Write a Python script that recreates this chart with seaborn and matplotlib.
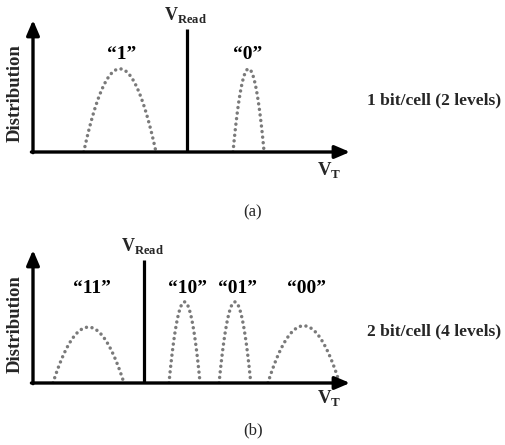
import numpy as np
import pandas as pd
import matplotlib
matplotlib.use("Agg")
import matplotlib.pyplot as plt
import seaborn as sns

sns.set_theme(style="white")
plt.rcParams['font.family'] = ['Liberation Serif', 'DejaVu Serif']
plt.rcParams['mathtext.fontset'] = 'custom'
plt.rcParams['mathtext.rm'] = 'Liberation Serif'
plt.rcParams['mathtext.bf'] = 'Liberation Serif:bold'

# ---- data (schematic threshold-voltage distributions) ----
top_labels = ["\u201c1\u201d", "\u201c0\u201d"]
top_centers = [27.4, 68.0]
top_halfwidths = [11.4, 4.9]
top_heights = [0.63, 0.63]
top_label_x = [28.0, 67.8]
top_vread = 48.6

bot_labels = ["\u201c11\u201d", "\u201c10\u201d", "\u201c01\u201d", "\u201c00\u201d"]
bot_centers = [17.5, 47.8, 63.7, 85.4]
bot_halfwidths = [11.2, 4.9, 5.0, 11.3]
bot_heights = [0.42, 0.61, 0.61, 0.43]
bot_label_x = [18.6, 48.6, 64.4, 86.4]
bot_vread = 35.0

panel_titles = ["1 bit/cell (2 levels)", "2 bit/cell (4 levels)"]
panel_tags = ["(a)", "(b)"]

W, H = 506, 445
fig = plt.figure(figsize=(W / 100, H / 100), dpi=100)


def px_axes(x0, y_top, x1, y_bot):
    return fig.add_axes([x0 / W, 1 - y_bot / H, (x1 - x0) / W, (y_bot - y_top) / H])


def build_df(labels, centers, hws, heights):
    rows = []
    for lab, c, w, h in zip(labels, centers, hws, heights):
        xs = np.linspace(c - w, c + w, 60)
        ys = h * (1 - ((xs - c) / w) ** 2)
        for xv, yv in zip(xs, ys):
            rows.append({"state": lab, "VT": xv, "dist": yv})
    return pd.DataFrame(rows)


def draw_panel(ax, labels, centers, hws, heights, label_x, vread, label_y, vread_top, vread_lab_y):
    ax.set_xlim(0, 100)
    ax.set_ylim(0, 1)
    ax.axis("off")
    df = build_df(labels, centers, hws, heights)
    for lab in labels:
        sub = df[df["state"] == lab]
        sns.lineplot(data=sub, x="VT", y="dist", ax=ax, color="#7a7a7a",
                     linewidth=2.5, linestyle=(0, (0.01, 1.6)),
                     dash_capstyle="round", estimator=None, sort=False, legend=False)
    for lab, lx in zip(labels, label_x):
        ax.text(lx, label_y, lab, ha="center", va="center", fontsize=14,
                fontweight="bold", color="black")
    # V_Read line
    ax.plot([vread, vread], [0, vread_top], color="black", lw=2.3, solid_capstyle="butt")
    ax.text(vread - 0.5, vread_lab_y, r"$\mathbf{V}_{\mathbf{Read}}$", ha="center",
            va="center", fontsize=13, clip_on=False)
    # axes with arrows
    ax.annotate("", xy=(0, 1.0), xytext=(0, -0.005), xycoords="axes fraction",
                arrowprops=dict(arrowstyle="-|>,head_length=0.75,head_width=0.32",
                                color="black", lw=2.4, shrinkA=0, shrinkB=0))
    ax.annotate("", xy=(1.0, 0), xytext=(-0.005, 0), xycoords="axes fraction",
                arrowprops=dict(arrowstyle="-|>,head_length=0.75,head_width=0.32",
                                color="black", lw=2.4, shrinkA=0, shrinkB=0))
    ax.set_xlabel("")
    ax.set_ylabel("")


ax_top = px_axes(33, 20, 350, 152)
draw_panel(ax_top, top_labels, top_centers, top_halfwidths, top_heights,
           top_label_x, top_vread, 0.735, 0.93, 1.04)

ax_bot = px_axes(33, 250, 350, 383)
draw_panel(ax_bot, bot_labels, bot_centers, bot_halfwidths, bot_heights,
           bot_label_x, bot_vread, 0.71, 0.925, 1.03)

# y labels
fig.text(15 / W, 1 - 93 / H, "Distribution", rotation=90, ha="center", va="center",
         fontsize=13.5, fontweight="bold")
fig.text(15 / W, 1 - 324 / H, "Distribution", rotation=90, ha="center", va="center",
         fontsize=13.5, fontweight="bold")

# V_T labels
fig.text(329 / W, 1 - 171 / H, r"$\mathbf{V}_{\mathbf{T}}$", ha="center", va="center", fontsize=13.5)
fig.text(329 / W, 1 - 399 / H, r"$\mathbf{V}_{\mathbf{T}}$", ha="center", va="center", fontsize=13.5)

# side titles
fig.text(434 / W, 1 - 100 / H, panel_titles[0], ha="center", va="center",
         fontsize=12.6, fontweight="bold")
fig.text(434 / W, 1 - 331 / H, panel_titles[1], ha="center", va="center",
         fontsize=12.6, fontweight="bold")

# panel tags
fig.text(253 / W, 1 - 212 / H, panel_tags[0], ha="center", va="center", fontsize=12)
fig.text(253 / W, 1 - 430 / H, panel_tags[1], ha="center", va="center", fontsize=12)

fig.savefig("out.png", dpi=100, facecolor="white")
